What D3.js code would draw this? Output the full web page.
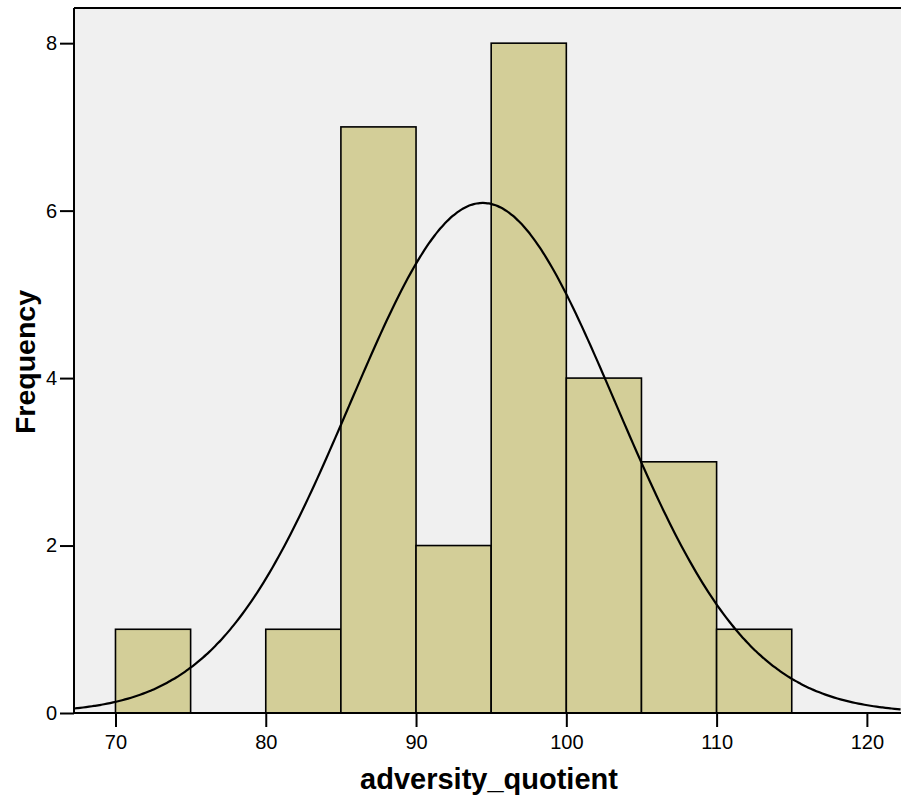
<!DOCTYPE html>
<html>
<head>
<meta charset="utf-8">
<script src="https://cdn.jsdelivr.net/npm/d3@7"></script>
<style>
  body { margin: 0; background: #fff; }
  text { font-family: Arial, "Liberation Sans", sans-serif; }
</style>
</head>
<body>
<div id="chart"></div>
<script>
// histogram bins (lower edge) and counts
const binStarts = [70, 80, 85, 90, 95, 100, 105, 110];
const binWidth = 5;
const counts = [1, 1, 7, 2, 8, 4, 3, 1];
const xTicks = [70, 80, 90, 100, 110, 120];
const yTicks = [0, 2, 4, 6, 8];
// normal curve parameters
const curveMean = 94.45;
const curveSd = 8.84;

function drawHistogram(containerId = "chart") {
    const width = 901, height = 803;
    const margin = { left: 74, top: 8, right: 0, bottom: 90 };
    const svg = d3.select(`#${containerId}`).append("svg")
        .attr("width", width)
        .attr("height", height);

    const x = d3.scaleLinear().domain([67.24, 122.27]).range([margin.left, width - margin.right]);
    const y = d3.scaleLinear().domain([0, 8.42]).range([713, margin.top]);

    // plot background
    svg.append("rect")
        .attr("x", margin.left).attr("y", margin.top)
        .attr("width", width - margin.left).attr("height", 713 - margin.top)
        .attr("fill", "#f0f0f0");

    const n = d3.sum(counts);
    svg.selectAll("rect.bar")
        .data(binStarts)
        .enter()
        .append("rect")
        .attr("class", "bar")
        .attr("x", d => x(d))
        .attr("y", (d, i) => y(counts[i]))
        .attr("width", d => x(d + binWidth) - x(d))
        .attr("height", (d, i) => y(0) - y(counts[i]))
        .attr("fill", "#d3ce98")
        .attr("stroke", "#000")
        .attr("stroke-width", 1.6);

    // normal curve
    const pts = d3.range(67.24, 122.3, 0.2);
    const dens = v => n * binWidth / (curveSd * Math.sqrt(2 * Math.PI)) *
        Math.exp(-0.5 * Math.pow((v - curveMean) / curveSd, 2));
    svg.append("path")
        .datum(pts)
        .attr("fill", "none")
        .attr("stroke", "#000")
        .attr("stroke-width", 2.2)
        .attr("d", d3.line().x(d => x(d)).y(d => y(dens(d))).curve(d3.curveBasis));

    // frame: top line
    svg.append("line")
        .attr("x1", margin.left).attr("x2", width)
        .attr("y1", margin.top).attr("y2", margin.top)
        .attr("stroke", "#000").attr("stroke-width", 2);

    const xAxis = svg.append("g")
        .attr("transform", `translate(0,${y(0)})`)
        .call(d3.axisBottom(x).tickValues(xTicks).tickSize(14).tickPadding(8).tickSizeOuter(0));
    const yAxis = svg.append("g")
        .attr("transform", `translate(${margin.left},0)`)
        .call(d3.axisLeft(y).tickValues(yTicks).tickSize(14).tickPadding(3).tickSizeOuter(0));

    [xAxis, yAxis].forEach(g => {
        g.attr("font-size", 20).attr("font-family", "Arial, 'Liberation Sans', sans-serif");
        g.select(".domain").attr("stroke", "#000").attr("stroke-width", 2);
        g.selectAll(".tick line").attr("stroke", "#000").attr("stroke-width", 2);
        g.selectAll(".tick text").attr("fill", "#000");
    });
    yAxis.select(".domain").attr("d", `M0,${margin.top}V${y(0)}`);
    xAxis.select(".domain").attr("d", `M${margin.left},0H${width}`);

    svg.append("text")
        .attr("x", 489)
        .attr("y", 789)
        .attr("text-anchor", "middle")
        .style("font-size", "29px")
        .style("font-weight", "bold")
        .text("adversity_quotient");

    svg.append("text")
        .attr("transform", `translate(35,362) rotate(-90)`)
        .attr("text-anchor", "middle")
        .style("font-size", "28.5px")
        .style("font-weight", "bold")
        .text("Frequency");
}

document.addEventListener('DOMContentLoaded', () => {
    drawHistogram();
});
</script>
</body>
</html>
